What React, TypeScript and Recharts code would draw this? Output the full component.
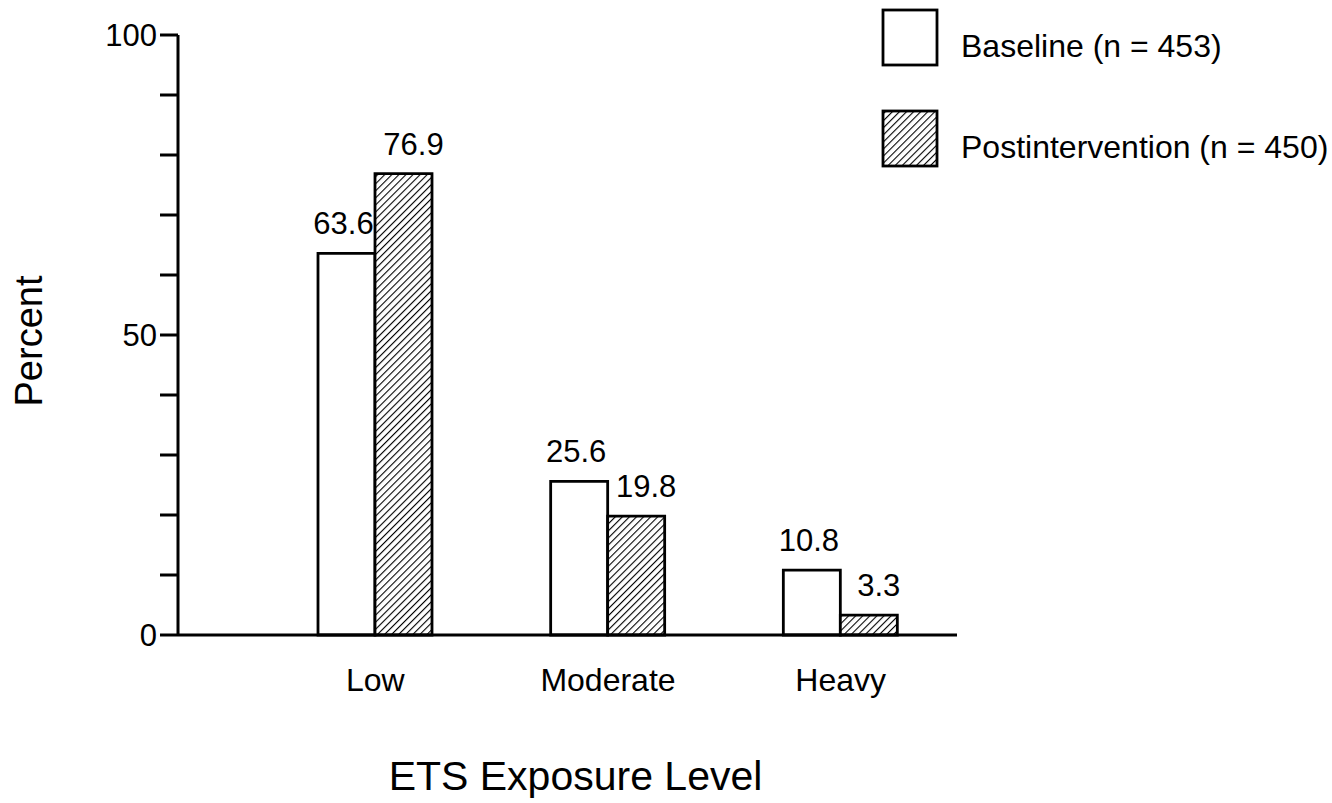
import React from 'react';
import { BarChart, Bar, XAxis, YAxis, LabelList, Legend, Label } from 'recharts';

const categories = ['Low', 'Moderate', 'Heavy'];
const baselineValues = [63.6, 25.6, 10.8];
const postValues = [76.9, 19.8, 3.3];
const yTicks = [0, 10, 20, 30, 40, 50, 60, 70, 80, 90, 100];
const yLabeledTicks = [0, 50, 100];
const seriesNames = ['Baseline (n = 453)', 'Postintervention (n = 450)'];

const data = categories.map((c, i) => ({
  category: c,
  baseline: baselineValues[i],
  post: postValues[i],
}));

const FONT = '"Liberation Sans", Arial, Helvetica, sans-serif';

const HatchDef = ({ id }: { id: string }) => (
  <pattern id={id} patternUnits="userSpaceOnUse" width={5} height={5} patternTransform="rotate(45)">
    <rect x={0} y={0} width={5} height={5} fill="#fff" />
    <line x1={0} y1={0} x2={0} y2={5} stroke="#000" strokeWidth={2.2} />
  </pattern>
);

const LegendContent = (props: any) => {
  const payload = props.payload || [];
  return (
    <svg width={462} height={180} style={{ display: 'block' }}>
      <defs>
        <HatchDef id="hatchLegend" />
      </defs>
      {seriesNames.map((name, i) => {
        const item = payload[i];
        const label = item && item.value ? item.value : name;
        const top = i === 0 ? 10 : 111;
        return (
          <g key={name}>
            <rect
              x={14}
              y={top}
              width={54}
              height={55}
              fill={i === 0 ? '#fff' : 'url(#hatchLegend)'}
              stroke="#000"
              strokeWidth={2.8}
            />
            <text x={92} y={top + 47} fontSize={32} fill="#000" fontFamily={FONT}>
              {label}
            </text>
          </g>
        );
      })}
    </svg>
  );
};

export default function App() {
  return (
    <div style={{ position: 'absolute', left: 0, top: 0, width: 1332, height: 803, background: '#fff', fontFamily: FONT }}>
      <BarChart
        width={1332}
        height={803}
        data={data}
        margin={{ top: 35, right: 375, bottom: 108, left: 0 }}
        barGap={0}
        barSize={57}
      >
        <defs>
          <HatchDef id="hatchBar" />
        </defs>
        <XAxis
          dataKey="category"
          height={60}
          padding={{ left: 81, right: 0 }}
          axisLine={{ stroke: '#000', strokeWidth: 3 }}
          tickLine={false}
          tickSize={0}
          tickMargin={33}
          tick={{ fontSize: 32, fill: '#000', fontFamily: FONT }}
        >
          <Label
            content={(p: any) => {
              const vb = p.viewBox || { x: 178, y: 635, width: 779 };
              return (
                <text
                  x={vb.x + vb.width / 2 + 8}
                  y={vb.y + 155}
                  textAnchor="middle"
                  fontSize={41}
                  fill="#000"
                  fontFamily={FONT}
                >
                  ETS Exposure Level
                </text>
              );
            }}
          />
        </XAxis>
        <YAxis
          width={178}
          domain={[0, 100]}
          ticks={yTicks}
          interval={0}
          tickFormatter={(v: number) => (yLabeledTicks.includes(v) ? String(v) : '')}
          axisLine={{ stroke: '#000', strokeWidth: 3 }}
          tickLine={{ stroke: '#000', strokeWidth: 3 }}
          tickSize={18}
          tickMargin={3}
          tick={{ fontSize: 31, fill: '#000', fontFamily: FONT }}
        >
          <Label
            content={(p: any) => {
              const vb = p.viewBox || { x: 0, y: 35, width: 178, height: 600 };
              const cx = vb.x + 42;
              const cy = vb.y + vb.height / 2 + 6;
              return (
                <text
                  x={cx}
                  y={cy}
                  transform={`rotate(-90 ${cx} ${cy})`}
                  textAnchor="middle"
                  fontSize={38}
                  fill="#000"
                  fontFamily={FONT}
                >
                  Percent
                </text>
              );
            }}
          />
        </YAxis>
        <Legend
          layout="vertical"
          align="center"
          verticalAlign="middle"
          wrapperStyle={{ position: 'absolute', left: 869, top: 0, width: 462, height: 180 }}
          content={<LegendContent />}
        />
        <Bar
          dataKey="baseline"
          name={seriesNames[0]}
          fill="#fff"
          stroke="#000"
          strokeWidth={2.8}
          isAnimationActive={false}
        >
          <LabelList dataKey="baseline" position="top" offset={19} dx={-3} fontSize={31} fill="#000" fontFamily={FONT} />
        </Bar>
        <Bar
          dataKey="post"
          name={seriesNames[1]}
          fill="url(#hatchBar)"
          stroke="#000"
          strokeWidth={2.8}
          isAnimationActive={false}
        >
          <LabelList dataKey="post" position="top" offset={19} dx={10} fontSize={31} fill="#000" fontFamily={FONT} />
        </Bar>
      </BarChart>
    </div>
  );
}
